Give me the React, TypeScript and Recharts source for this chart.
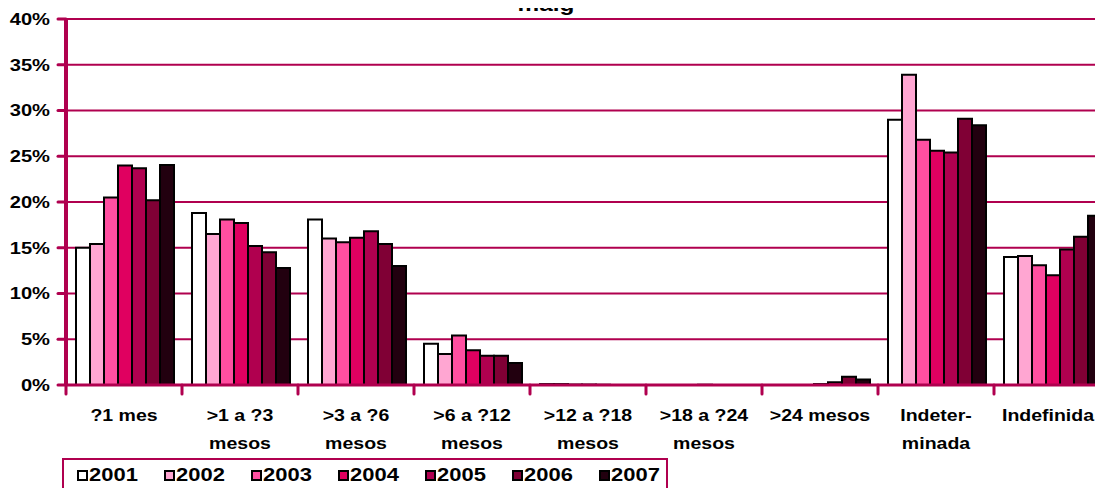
import React from 'react';
import { BarChart, Bar, XAxis, YAxis, CartesianGrid, Legend } from 'recharts';

const categories = [
  '?1 mes',
  '>1 a ?3\nmesos',
  '>3 a ?6\nmesos',
  '>6 a ?12\nmesos',
  '>12 a ?18\nmesos',
  '>18 a ?24\nmesos',
  '>24 mesos',
  'Indeter-\nminada',
  'Indefinida',
];

const v2001 = [15.0, 18.8, 18.1, 4.5, 0.1, 0, 0, 29.0, 14.0];
const v2002 = [15.4, 16.5, 16.0, 3.4, 0.1, 0, 0, 33.9, 14.1];
const v2003 = [20.5, 18.1, 15.6, 5.4, 0.05, 0, 0, 26.8, 13.1];
const v2004 = [24.0, 17.7, 16.1, 3.8, 0.05, 0.03, 0.1, 25.6, 12.0];
const v2005 = [23.7, 15.2, 16.8, 3.2, 0.03, 0, 0.3, 25.4, 14.8];
const v2006 = [20.2, 14.5, 15.4, 3.2, 0, 0, 0.9, 29.1, 16.2];
const v2007 = [24.05, 12.8, 13.0, 2.4, 0, 0, 0.6, 28.4, 18.5];

const years = ['2001', '2002', '2003', '2004', '2005', '2006', '2007'];
const seriesValues = [v2001, v2002, v2003, v2004, v2005, v2006, v2007];
const colors = ['#FFFFFF', '#FFA6D2', '#FF4FA0', '#E00060', '#B0004F', '#800035', '#22000F'];
const yTicks = [0, 5, 10, 15, 20, 25, 30, 35, 40];
const title = 'maig';

const data = categories.map((cat, i) => {
  const row: Record<string, any> = { cat };
  years.forEach((y, k) => {
    row[y] = seriesValues[k][i];
  });
  return row;
});

const CRIMSON = '#B0004F';
const FONT = '"Liberation Sans", Arial, sans-serif';
const SX = 1.22;

const XTick = (props: any) => {
  const { x, y, payload, index } = props;
  const half = payload && payload.offset ? payload.offset : 58;
  const lines = String(payload.value).split('\n');
  const isLast = index === categories.length - 1;
  const tx = isLast ? x - 4 : x;
  return (
    <g>
      <line x1={x - half} x2={x - half} y1={y} y2={y + 9} stroke={CRIMSON} strokeWidth={3} strokeLinecap="round" />
      {isLast && (
        <line x1={x + half} x2={x + half} y1={y} y2={y + 9} stroke={CRIMSON} strokeWidth={3} strokeLinecap="round" />
      )}
      {lines.map((l, i) => (
        <text
          key={i}
          transform={`translate(${tx},${y + 36 + i * 28}) scale(${SX},1)`}
          textAnchor="middle"
          fontSize={16}
          fontWeight="bold"
          fontFamily={FONT}
          fill="#000"
        >
          {l}
        </text>
      ))}
    </g>
  );
};

const YTick = (props: any) => {
  const { x, y, payload } = props;
  return (
    <text
      transform={`translate(${x},${y}) scale(${SX},1)`}
      textAnchor="end"
      dy="0.36em"
      fontSize={16.5}
      fontWeight="bold"
      fontFamily={FONT}
      fill="#000"
    >
      {`${payload.value}%`}
    </text>
  );
};

const LegendContent = () => (
  <div
    style={{
      boxSizing: 'border-box',
      width: 606,
      height: 40,
      border: `2px solid ${CRIMSON}`,
      position: 'relative',
      fontFamily: FONT,
      fontWeight: 'bold',
      background: '#fff',
    }}
  >
    {years.map((y, i) => (
      <div
        key={y}
        style={{ position: 'absolute', left: 13 + i * 87, top: 10, display: 'flex', alignItems: 'center', height: 11 }}
      >
        <span
          style={{
            boxSizing: 'border-box',
            display: 'inline-block',
            width: 11,
            height: 11,
            border: '2px solid #000',
            background: colors[i],
          }}
        />
        <span
          style={{
            display: 'inline-block',
            marginLeft: 1,
            fontSize: 18,
            color: '#000',
            transform: `scaleX(${SX})`,
            transformOrigin: 'left center',
            lineHeight: '11px',
          }}
        >
          {y}
        </span>
      </div>
    ))}
  </div>
);

export default function App() {
  return (
    <div style={{ position: 'relative', margin: '-8px 0 0 -8px', width: 1103, height: 488, overflow: 'hidden', background: '#fff' }}>
      <svg style={{ position: 'absolute', left: 0, top: 0, zIndex: 2 }} width={1103} height={30}>
        <text
          transform={`translate(546,11) scale(${SX},1)`}
          textAnchor="middle"
          fontSize={20}
          fontWeight="bold"
          fontFamily={FONT}
          fill="#000"
        >
          {title}
        </text>
      </svg>
      <BarChart
        width={1115}
        height={500}
        data={data}
        margin={{ top: 19, right: 5, left: 0, bottom: 5 }}
        barCategoryGap={10}
        barGap={0}
      >
        <CartesianGrid horizontal vertical={false} stroke={CRIMSON} strokeWidth={2} />
        <XAxis
          dataKey="cat"
          height={70}
          interval={0}
          tickLine={false}
          tickSize={0}
          tickMargin={0}
          axisLine={{ stroke: CRIMSON, strokeWidth: 3 }}
          tick={<XTick />}
        />
        <YAxis
          width={66}
          domain={[0, 40]}
          ticks={yTicks}
          interval={0}
          tickSize={8}
          tickMargin={8}
          axisLine={{ stroke: CRIMSON, strokeWidth: 4 }}
          tickLine={{ stroke: CRIMSON, strokeWidth: 3, strokeLinecap: 'round' }}
          tick={<YTick />}
        />
        <Legend
          verticalAlign="bottom"
          content={<LegendContent />}
          wrapperStyle={{ left: 62, top: 458, bottom: 'auto', width: 606, height: 40 }}
        />
        {years.map((y, i) => (
          <Bar key={y} dataKey={y} fill={colors[i]} stroke="#000" strokeWidth={2} isAnimationActive={false} />
        ))}
      </BarChart>
    </div>
  );
}
